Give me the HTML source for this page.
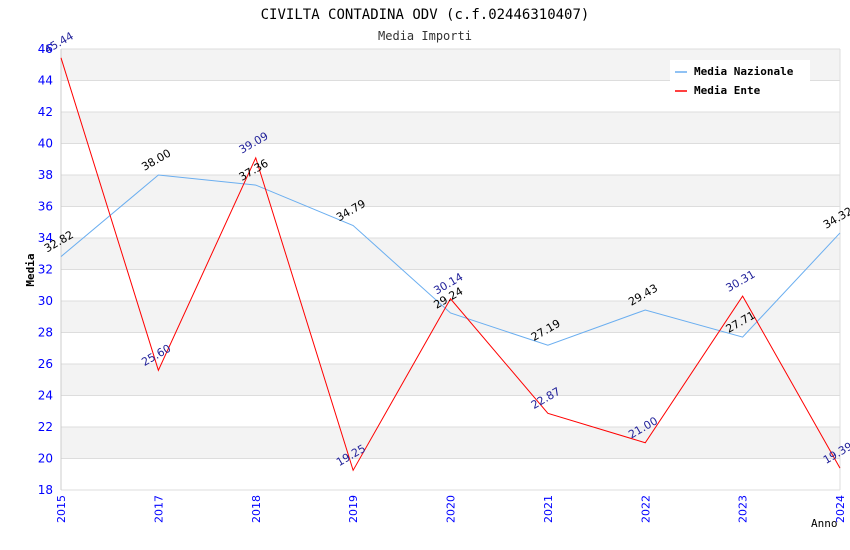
<!DOCTYPE html>
<html><head><meta charset="utf-8"><style>
body{margin:0;background:#fff}
svg{display:block;font-family:"DejaVu Sans","Liberation Sans",sans-serif}
</style></head><body>
<svg id="chart" width="850" height="550">
<text x="425" y="19" text-anchor="middle" font-family="DejaVu Sans Mono,Liberation Mono,monospace" font-size="14">CIVILTA CONTADINA ODV (c.f.02446310407)</text>
<text x="425" y="40" text-anchor="middle" font-family="DejaVu Sans Mono,Liberation Mono,monospace" font-size="12" fill="#333">Media Importi</text>
<g id="bands"></g><g id="grid"></g><g id="axes"></g><g id="lines"></g><g id="labels"></g>
<text x="34" y="270" transform="rotate(-90 34 270)" text-anchor="middle" font-family="DejaVu Sans Mono,monospace" font-size="11" font-weight="bold">Media</text>
<text x="811" y="527" font-family="DejaVu Sans Mono,monospace" font-size="11">Anno</text>
<g>
<rect x="670" y="60" width="140" height="42" fill="#fff"/>
<line x1="675" y1="72" x2="687" y2="72" stroke="#6aaef0" stroke-width="1.5"/>
<text x="694" y="75" font-family="DejaVu Sans Mono,monospace" font-size="11" font-weight="bold">Media Nazionale</text>
<line x1="675" y1="91" x2="687" y2="91" stroke="#f00" stroke-width="1.5"/>
<text x="694" y="94" font-family="DejaVu Sans Mono,monospace" font-size="11" font-weight="bold">Media Ente</text>
</g>
</svg>
<script>
const years=["2015","2017","2018","2019","2020","2021","2022","2023","2024"];
const nazionale=[32.82,38.00,37.36,34.79,29.24,27.19,29.43,27.71,34.32];
const ente=[45.44,25.60,39.09,19.25,30.14,22.87,21.00,30.31,19.39];
const yTicks=[18,20,22,24,26,28,30,32,34,36,38,40,42,44,46];
const X0=61,X1=840,Y0=490,Y1=49,ymin=18,ymax=46;
const NS="http://www.w3.org/2000/svg";
function xs(i){return X0+(X1-X0)*i/(years.length-1);}
function ys(v){return Y0-(v-ymin)/(ymax-ymin)*(Y0-Y1);}
function mk(t,a,p){const e=document.createElementNS(NS,t);for(const k in a)e.setAttribute(k,a[k]);document.getElementById(p).appendChild(e);return e;}
for(let i=0;i<yTicks.length-1;i++){const v=yTicks[i];
 if((v-20)%4===0&&v>=20){const r=mk('rect',{x:X0,y:ys(v+2),width:X1-X0,height:ys(v)-ys(v+2),fill:'#f3f3f3'},'bands');
 
 }}
yTicks.forEach(v=>{const l=mk('line',{x1:X0,x2:X1,y1:ys(v),y2:ys(v),stroke:'#ddd'},'grid');
 
 
 const t=mk('text',{x:X0-8,y:ys(v)+4,'text-anchor':'end','font-size':'12',fill:'#00f'},'axes');t.textContent=v;
 
 });
const ax=mk('line',{x1:X0,x2:X0,y1:Y1,y2:Y0,stroke:'#ccc'},'axes');


const vx=mk('line',{x1:X1,x2:X1,y1:Y1,y2:Y0,stroke:'#ddd'},'axes');


years.forEach((y,i)=>{const t=mk('text',{x:xs(i)+4,y:Y0+5,'text-anchor':'end','font-size':'11',fill:'#00f',transform:`rotate(-90 ${xs(i)+4} ${Y0+5})`},'axes');t.textContent=y;
 
 });
function series(vals,color,lc,name){
 const p=mk('polyline',{points:vals.map((v,i)=>xs(i)+','+ys(v)).join(' '),fill:'none',stroke:color,'stroke-width':'1'},'lines');
 
 
 vals.forEach((v,i)=>{const x=xs(i)-14,y=ys(v)-4;
  const t=mk('text',{x:x,y:y,'font-size':'11',fill:lc,transform:`rotate(-30 ${x} ${y})`},'labels');t.textContent=v.toFixed(2);
  
  });
}
series(nazionale,'#6aaef0','#000','nazionale');
series(ente,'#f00','#22229a','ente');
</script>
</body></html>
